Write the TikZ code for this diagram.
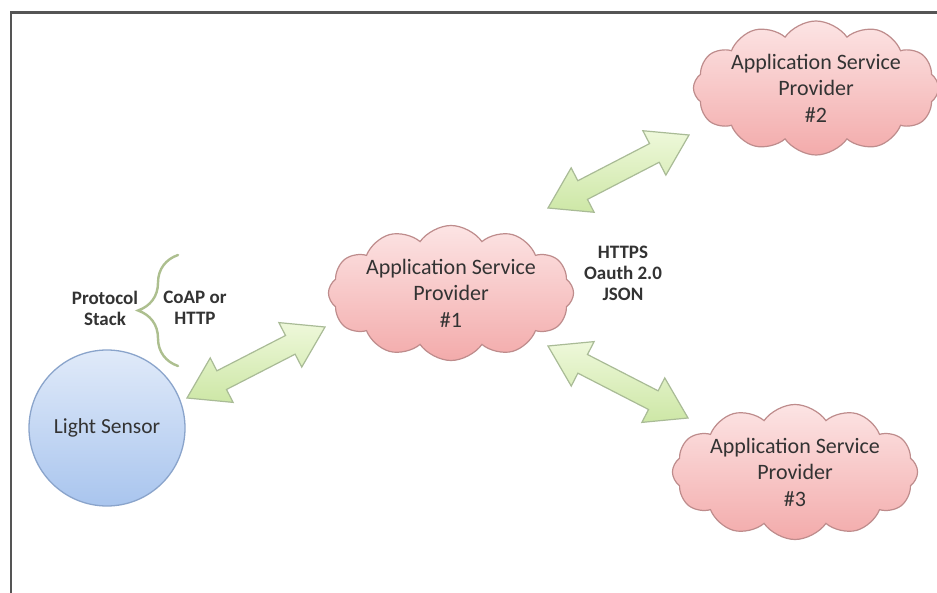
\documentclass[tikz,border=0pt]{standalone}
\usepackage{fontspec}
\setmainfont{Carlito}
\usetikzlibrary{shapes.symbols,calc,decorations.pathreplacing}

\definecolor{framegray}{HTML}{555555}
\definecolor{cloudtop}{HTML}{FCE4E4}
\definecolor{cloudbot}{HTML}{F3ABAB}
\definecolor{cloudline}{HTML}{BE8C8C}
\definecolor{sensortop}{HTML}{E0EAF9}
\definecolor{sensorbot}{HTML}{A9C5EE}
\definecolor{sensorline}{HTML}{8AA4CB}
\definecolor{arrowtop}{HTML}{EEF8DA}
\definecolor{arrowbot}{HTML}{CDE7A6}
\definecolor{arrowline}{HTML}{A9BB96}
\definecolor{bracegreen}{HTML}{ADBF8F}
\definecolor{txt}{HTML}{333333}

\tikzset{
  provider/.style={cloud, cloud puffs=12, cloud puff arc=110, cloud ignores aspect,
    top color=cloudtop, bottom color=cloudbot, draw=cloudline, line width=1.2pt,
    align=center, text=txt, inner sep=0pt,
    font=\fontsize{22}{26.5}\selectfont},
  sensorbox/.style={circle, minimum size=156pt, inner sep=0pt,
    top color=sensortop, bottom color=sensorbot, draw=sensorline, line width=1.3pt,
    text=txt, font=\fontsize{21.5}{26}\selectfont},
  boldlabel/.style={align=center, text=txt, inner sep=0pt,
    font=\bfseries\fontsize{19}{21}\selectfont},
  linkarrow/.style={top color=arrowtop, bottom color=arrowbot, draw=arrowline,
    line width=1.2pt, line join=miter},
}

% double-headed block arrow between two named points
\newcommand{\blockarrow}[2]{%
  \path coordinate (h1) at ($(#1)!39pt!(#2)$)
        coordinate (h2) at ($(#2)!39pt!(#1)$);
  \path[linkarrow] (#1)
    -- ($(h1)!25pt!90:(#2)$) -- ($(h1)!10.5pt!90:(#2)$)
    -- ($(h2)!10.5pt!-90:(#1)$) -- ($(h2)!25pt!-90:(#1)$)
    -- (#2)
    -- ($(h2)!25pt!90:(#1)$) -- ($(h2)!10.5pt!90:(#1)$)
    -- ($(h1)!10.5pt!-90:(#2)$) -- ($(h1)!25pt!-90:(#2)$)
    -- cycle;%
}

\begin{document}
\begin{tikzpicture}[x=1pt,y=-1pt]
\useasboundingbox (0,0) rectangle (937,593);
\fill[white] (0,0) rectangle (937,593);

% frame
\draw[framegray, line width=2.5pt] (11,593) -- (11,12.5) -- (937,12.5);

% nodes
\node[sensorbox] (sensor) at (107,428) {Light Sensor};
\node[provider, minimum width=233pt, minimum height=135pt] (asp1) at (451,293)
  {Application Service\\Provider\\\#1};
\node[provider, minimum width=235pt, minimum height=134pt] (asp2) at (816,88)
  {Application Service\\Provider\\\#2};
\node[provider, minimum width=236pt, minimum height=135pt] (asp3) at (795,472)
  {Application Service\\Provider\\\#3};

% labels
\node[boldlabel] (stack) at (105,308) {Protocol\\Stack};
\node[boldlabel] (proto) at (195,308) {CoAP or\\HTTP};
\node[boldlabel] (web) at (623,273) {HTTPS\\Oauth 2.0\\JSON};

% brace grouping the protocol stack
\coordinate (brbot) at (178,366);
\coordinate (brtop) at (178,255);
\draw[bracegreen, line width=2.4pt, line cap=round,
  decorate, decoration={brace, amplitude=40pt, aspect=0.5}] (brbot) -- (brtop);

% links
\coordinate (a1) at (187,398);
\coordinate (a2) at (325,327);
\coordinate (b1) at (548,208);
\coordinate (b2) at (689,135);
\coordinate (c1) at (548,346);
\coordinate (c2) at (688,418);
\blockarrow{a1}{a2}
\blockarrow{b1}{b2}
\blockarrow{c1}{c2}
\end{tikzpicture}
\end{document}
